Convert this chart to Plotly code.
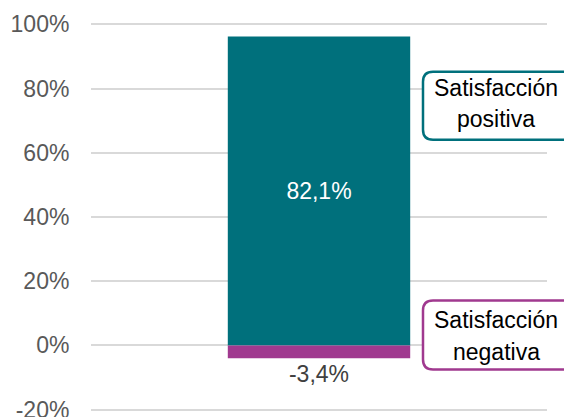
import plotly.graph_objects as go

categories = [""]
positive_values = [96.2]
negative_values = [-4.0]
positive_labels = ["82,1%"]
negative_labels = ["-3,4%"]
series_names = ["Satisfacción positiva", "Satisfacción negativa"]
tick_values = [-20, 0, 20, 40, 60, 80, 100]
tick_labels = ["-20%", "0%", "20%", "40%", "60%", "80%", "100%"]

TEAL = "#00707C"
PURPLE = "#A0398F"
FONT = "Arial, Liberation Sans, sans-serif"

W, H = 564, 417
Y_LO, Y_HI = -22.0, 102.0
PXPU = (410 - 24.7) / 120.0  # pixels per percent
# plot area in window pixels
WIN_L, WIN_R = 91, 547
WIN_T = 24.7 - (Y_HI - 100) * PXPU
WIN_B = 410 + (-20 - Y_LO) * PXPU
ML = WIN_L
MT = WIN_T
MR = W - WIN_R
MB = H - WIN_B


def px(x):
    return (x - WIN_L) / (WIN_R - WIN_L)


def py(y):
    return (WIN_B - y) / (WIN_B - WIN_T)


def rounded_rect(x0, y0, x1, y1, r):
    pts = [
        ("M", [(x0 + r, y0)]),
        ("L", [(x1 - r, y0)]),
        ("Q", [(x1, y0), (x1, y0 + r)]),
        ("L", [(x1, y1 - r)]),
        ("Q", [(x1, y1), (x1 - r, y1)]),
        ("L", [(x0 + r, y1)]),
        ("Q", [(x0, y1), (x0, y1 - r)]),
        ("L", [(x0, y0 + r)]),
        ("Q", [(x0, y0), (x0 + r, y0)]),
    ]
    s = ""
    for cmd, coords in pts:
        s += cmd + " " + " ".join(f"{px(a):.5f},{py(b):.5f}" for a, b in coords) + " "
    return s + "Z"


fig = go.Figure()
fig.add_trace(go.Bar(
    x=categories, y=positive_values, name=series_names[0],
    marker=dict(color=TEAL, line=dict(width=0)),
    text=positive_labels, textposition="inside", insidetextanchor="middle",
    textfont=dict(color="white", size=23, family=FONT),
    texttemplate="%{text}", width=0.4,
))
fig.add_trace(go.Bar(
    x=categories, y=negative_values, name=series_names[1],
    marker=dict(color=PURPLE, line=dict(width=0)),
    text=negative_labels, textposition="outside",
    textfont=dict(color="#404040", size=23, family=FONT),
    texttemplate="%{text}", width=0.4, cliponaxis=False,
))

shapes = [
    dict(type="path", xref="paper", yref="paper",
         path=rounded_rect(423, 72, 580, 140, 10),
         line=dict(color=TEAL, width=2.5), fillcolor="white", layer="above"),
    dict(type="path", xref="paper", yref="paper",
         path=rounded_rect(423, 301, 580, 370, 10),
         line=dict(color=PURPLE, width=2.5), fillcolor="white", layer="above"),
]

annotations = []
for text, ycen in [("Satisfacción", 88), ("positiva", 119), ("Satisfacción", 320), ("negativa", 352)]:
    annotations.append(dict(
        x=px(496), y=py(ycen), xref="paper", yref="paper", text=text,
        showarrow=False, xanchor="center", yanchor="middle",
        font=dict(color="black", size=23, family=FONT),
    ))

fig.update_layout(
    width=W, height=H, barmode="relative", showlegend=False,
    margin=dict(l=ML, r=MR, t=MT, b=MB, pad=0, autoexpand=False),
    paper_bgcolor="white", plot_bgcolor="white",
    font=dict(family=FONT),
    shapes=shapes, annotations=annotations,
    xaxis=dict(showgrid=False, showticklabels=False, showline=False, zeroline=False,
               automargin=False),
    yaxis=dict(
        range=[Y_LO, Y_HI], tickvals=tick_values, ticktext=tick_labels,
        automargin=False, ticklabeloverflow="allow",
        showgrid=True, gridcolor="#D9D9D9", gridwidth=1.5,
        zeroline=True, zerolinecolor="#D9D9D9", zerolinewidth=1.5,
        showline=False, ticks="outside", ticklen=16, tickcolor="rgba(0,0,0,0)",
        tickfont=dict(color="#595959", size=23, family=FONT),
    ),
)

fig.write_html(
    "out.html",
    config={"displayModeBar": False},
    post_script="document.body.style.margin='0';document.body.style.overflow='hidden';",
)
